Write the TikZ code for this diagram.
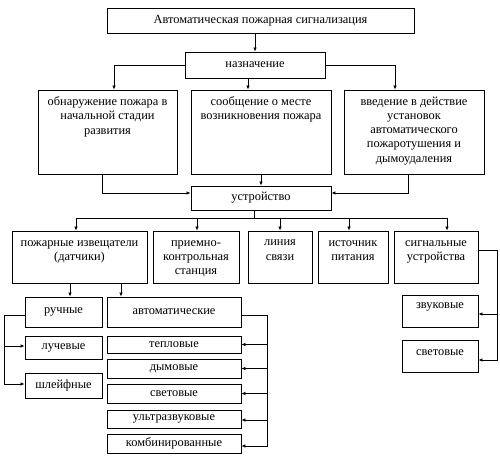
\documentclass[tikz,border=0pt]{standalone}
\usepackage{fontspec}
\setmainfont{Liberation Serif}
\usetikzlibrary{arrows.meta,calc}
\newcommand\diagfont{\fontsize{12.4}{14.2}\selectfont}
\begin{document}
\begin{tikzpicture}[x=1pt,y=-1pt,
  box/.style={draw, line width=0.9pt, inner sep=0pt, align=center, font=\diagfont},
  wh/.style 2 args={minimum width=#1pt, minimum height=#2pt},
  txt/.style={inner sep=0pt, align=center, font=\diagfont, anchor=north},
  ln/.style={line width=0.7pt},
  arr/.style={line width=0.7pt, -{Latex[length=4pt,width=3.5pt]}}]
\useasboundingbox (0,0) rectangle (500,457);
% boxes
\node[box, wh={307}{25}] (top) at (260.5,20.5) {Автоматическая пожарная сигнализация};
\node[box, wh={140}{26}] (naz) at (255,65) {назначение};
\node[box, wh={139}{84}] (p1) at (107.5,132) {};
\node[box, wh={140}{84}] (p2) at (261,132) {};
\node[box, wh={140}{84}] (p3) at (414,132) {};
\node[txt] (p1t) at ($(p1.north)+(0,7)$) {обнаружение пожара в\\начальной стадии\\развития};
\node[txt] (p2t) at ($(p2.north)+(0,7)$) {сообщение о месте\\возникновения пожара};
\node[txt] (p3t) at ($(p3.north)+(0,7)$) {введение в действие\\установок\\автоматического\\пожаротушения и\\дымоудаления};
\node[box, wh={140}{24}] (ust) at (261,198) {устройство};
\node[box, wh={135}{52}] (d1) at (79.5,257) {};
\node[box, wh={86}{52}] (d2) at (196,257) {};
\node[box, wh={64}{52}] (d3) at (280,257) {};
\node[box, wh={70}{52}] (d4) at (353,257) {};
\node[box, wh={84}{52}] (d5) at (436,257) {};
\node[txt] (d1t) at ($(d1.north)+(0,9.5)$) {пожарные извещатели\\(датчики)};
\node[txt] (d2t) at ($(d2.north)+(0,9.5)$) {приемно-\\контрольная\\станция};
\node[txt] (d3t) at ($(d3.north)+(0,9.5)$) {линия\\связи};
\node[txt] (d4t) at ($(d4.north)+(0,9.5)$) {источник\\питания};
\node[txt] (d5t) at ($(d5.north)+(0,9.5)$) {сигнальные\\устройства};
\node[box, wh={77}{30}] (r1) at (63.5,312) {ручные};
\node[box, wh={77}{23}] (r2) at (63.5,347.5) {лучевые};
\node[box, wh={77}{25}] (r3) at (63.5,385.5) {шлейфные};
\node[box, wh={134}{30}] (a0) at (174,312) {автоматические};
\node[box, wh={134}{17}] (a1) at (174,344.5) {тепловые};
\node[box, wh={134}{19}] (a2) at (174,368.5) {дымовые};
\node[box, wh={134}{19}] (a3) at (174,393.5) {световые};
\node[box, wh={134}{18}] (a4) at (174,419) {ультразвуковые};
\node[box, wh={134}{19}] (a5) at (174,443.5) {комбинированные};
\node[box, wh={76}{32}] (s1) at (440,311) {};
\node[box, wh={76}{32}] (s2) at (440,356) {};
\node[txt] (s1t) at ($(s1.north)+(0,8)$) {звуковые};
\node[txt] (s2t) at ($(s2.north)+(0,10)$) {световые};
% connectors
\draw[arr] (top.south -| naz.north) -- (naz.north);
\draw[arr] (naz.west) -| ([xshift=6.5pt]p1.north);
\draw[arr] ([xshift=-7pt]naz.south) -- ([xshift=-7pt]naz.south |- p2.north);
\draw[arr] (naz.east) -| ([xshift=-19pt]p3.north);
\draw[arr] ([xshift=-5.5pt]p1.south) |- ([yshift=5pt]ust.west);
\draw[arr] (p2.south) -- (p2.south |- ust.north);
\draw[arr] ([xshift=-6pt]p3.south) |- ([yshift=5pt]ust.east);
\draw[ln] ([xshift=-7pt]ust.south) -- ++(0,8) coordinate (bj);
\draw[arr] (bj) -| ([xshift=-3.5pt]d1.north);
\draw[arr] (bj) -| ([xshift=1pt]d2.north);
\draw[arr] (bj) -| (d3.north);
\draw[arr] (bj) -| ([xshift=-4pt]d4.north);
\draw[arr] (bj) -| ([xshift=11pt]d5.north);
\draw[arr] ([xshift=6.5pt]r1.north |- d1.south) -- ([xshift=6.5pt]r1.north);
\draw[arr] ([xshift=-53pt]a0.north |- d1.south) -- ([xshift=-53pt]a0.north);
\draw[ln] ([yshift=-3pt]r1.west) -- ++(-20,0) coordinate (lb);
\draw[arr] (lb) |- ([yshift=1.5pt]r2.west);
\draw[arr] (lb) |- ([yshift=1.5pt]r3.west);
\draw[ln] ([yshift=-3pt]a0.east) -- ++(26,0) coordinate (rb);
\draw[arr] (rb) |- (a1.east);
\draw[arr] (rb) |- (a2.east);
\draw[arr] (rb) |- (a3.east);
\draw[arr] (rb) |- ([yshift=-1pt]a4.east);
\draw[arr] (rb) |- ([yshift=-2.5pt]a5.east);
\draw[ln] ([yshift=7pt]d5.east) -- ++(19,0) coordinate (sb);
\draw[arr] (sb) |- ([yshift=-3pt]s1.east);
\draw[arr] (sb) |- ([yshift=-4pt]s2.east);
\end{tikzpicture}
\end{document}
